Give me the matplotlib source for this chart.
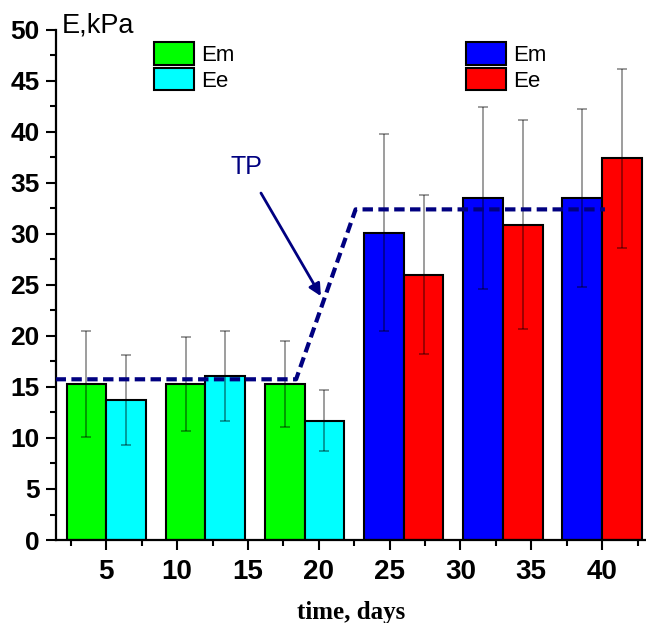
import matplotlib
matplotlib.use('Agg')
import matplotlib.pyplot as plt
from matplotlib.ticker import MultipleLocator
from matplotlib.patches import Patch

# group centres (days) and values
days = [5, 12, 19, 26, 33, 40]
em = [15.3, 15.3, 15.3, 30.1, 33.5, 33.5]
em_err = [5.2, 4.6, 4.2, 9.65, 8.9, 8.7]
ee = [13.7, 16.1, 11.7, 26.0, 30.9, 37.4]
ee_err = [4.4, 4.4, 3.0, 7.8, 10.25, 8.75]
em_colors = ['#00ff00', '#00ff00', '#00ff00', '#0000ff', '#0000ff', '#0000ff']
ee_colors = ['#00ffff', '#00ffff', '#00ffff', '#ff0000', '#ff0000', '#ff0000']

# TP dashed line
tp_x = [1.42, 18.4, 22.6, 40.2]
tp_y = [15.75, 15.75, 32.4, 32.4]

bar_w = 2.8
navy = '#000080'
sans = ['Liberation Sans Narrow', 'Liberation Sans', 'DejaVu Sans']

fig = plt.figure(figsize=(6.46, 6.23), dpi=100)
ax = fig.add_axes([0.086, 0.1332, 0.914, 0.819])

ax.bar(days, em, width=-bar_w, align='edge', color=em_colors, edgecolor='black', linewidth=1.5, zorder=2)
ax.bar(days, ee, width=bar_w, align='edge', color=ee_colors, edgecolor='black', linewidth=1.5, zorder=2)
ax.errorbar([d - bar_w / 2 for d in days], em, yerr=em_err, fmt='none', ecolor='black', alpha=0.45,
            elinewidth=1.2, capsize=3.4, capthick=1.2, zorder=3)
ax.errorbar([d + bar_w / 2 for d in days], ee, yerr=ee_err, fmt='none', ecolor='black', alpha=0.45,
            elinewidth=1.2, capsize=3.4, capthick=1.2, zorder=3)

ax.plot(tp_x, tp_y, color=navy, lw=3, linestyle=(0, (2.5, 1.3)), zorder=4)

ax.text(14.86, 36.6, 'TP', color=navy, fontsize=18, family=sans, ha='center', va='center')
ax.annotate('', xy=(20.15, 23.9), xytext=(15.92, 34.0),
            arrowprops=dict(arrowstyle='-|>', color=navy, lw=2, mutation_scale=18, shrinkA=0, shrinkB=0))

ax.set_xlim(1.42, 43.1)
ax.set_ylim(0, 50)
ax.xaxis.set_major_locator(MultipleLocator(5))
ax.xaxis.set_minor_locator(MultipleLocator(2.5))
ax.yaxis.set_major_locator(MultipleLocator(5))
ax.yaxis.set_minor_locator(MultipleLocator(2.5))
ax.set_xticks(range(5, 45, 5))
ax.tick_params(which='major', length=7, width=1.5)
ax.tick_params(which='minor', length=4, width=1.5)
ax.tick_params(axis='x', pad=7)
ax.tick_params(axis='y', pad=4.5)
for lab in ax.get_xticklabels():
    lab.set_fontfamily(['Liberation Sans', 'DejaVu Sans'])
    lab.set_fontweight('bold')
    lab.set_fontsize(20)
for lab in ax.get_yticklabels():
    lab.set_fontfamily(['Liberation Sans', 'DejaVu Sans'])
    lab.set_fontweight('bold')
    lab.set_fontsize(19)

for s in ['top', 'right']:
    ax.spines[s].set_visible(False)
for s in ['left', 'bottom']:
    ax.spines[s].set_linewidth(1.6)

ax.set_xlabel('time, days', family=['Liberation Serif', 'DejaVu Serif'], fontweight='bold', fontsize=18, labelpad=11)
fig.text(62 / 646, 1 - 32 / 623, 'E,kPa', family=sans, fontsize=19.5, va='baseline', ha='left')

leg_kw = dict(loc='upper left', frameon=False, borderpad=0, borderaxespad=0, handlelength=1.8, handleheight=1.2,
              handletextpad=0.3, labelspacing=0.08, prop={'family': sans, 'size': 16},
              bbox_transform=fig.transFigure)
h1 = [Patch(facecolor=em_colors[0], edgecolor='black', lw=1.5), Patch(facecolor=ee_colors[0], edgecolor='black', lw=1.5)]
h2 = [Patch(facecolor=em_colors[3], edgecolor='black', lw=1.5), Patch(facecolor=ee_colors[3], edgecolor='black', lw=1.5)]
leg1 = ax.legend(h1, ['Em', 'Ee'], bbox_to_anchor=(154 / 646, 1 - 42 / 623), **leg_kw)
ax.add_artist(leg1)
ax.legend(h2, ['Em', 'Ee'], bbox_to_anchor=(466 / 646, 1 - 42 / 623), **leg_kw)

plt.savefig('out.png', dpi=100)
